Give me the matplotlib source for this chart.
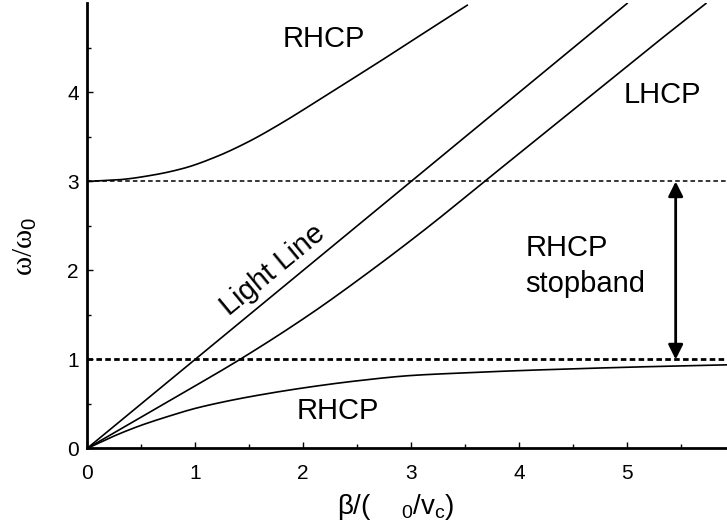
import matplotlib
matplotlib.use("Agg")
import matplotlib.pyplot as plt
import numpy as np

plt.rcParams['font.family'] = ['Liberation Sans', 'DejaVu Sans']
plt.rcParams['mathtext.fontset'] = 'custom'
plt.rcParams['mathtext.rm'] = 'Liberation Sans'
plt.rcParams['mathtext.it'] = 'Liberation Sans'

# Data
light_x = [0.0, 5.0]
light_y = [0.0, 5.0]

lhcp_x = [0.0, 0.71, 1.415, 2.055, 2.63, 3.17, 3.68, 4.19, 4.70, 5.21, 5.73]
lhcp_y = [0.0, 0.5, 1.0, 1.5, 2.0, 2.5, 3.0, 3.5, 4.0, 4.5, 5.0]

rhcp_up_x = [0.0, 0.3, 0.6, 0.9, 1.2, 1.5, 1.8, 2.1, 2.4, 2.7, 3.0, 3.3, 3.52]
rhcp_up_y = [3.0, 3.02, 3.07, 3.15, 3.28, 3.45, 3.655, 3.88, 4.11, 4.34, 4.575, 4.81, 4.98]

rhcp_lo_x = [0.0, 0.25, 0.5, 0.75, 1.0, 1.25, 1.5, 2.0, 2.5, 3.0, 3.5, 4.0, 4.5, 5.0, 5.5, 5.93]
rhcp_lo_y = [0.0, 0.14, 0.26, 0.36, 0.45, 0.52, 0.58, 0.68, 0.76, 0.82, 0.85, 0.875, 0.895, 0.913, 0.928, 0.94]

cutoff_levels = [1.0, 3.0]

xticks = [0, 1, 2, 3, 4, 5]
yticks = [0, 1, 2, 3, 4]


def smooth(xs, ys, n=300):
    # monotone piecewise cubic (Fritsch-Carlson) drawn through the read points
    x = np.asarray(xs, float)
    y = np.asarray(ys, float)
    h = np.diff(x)
    d = np.diff(y) / h
    m = np.zeros_like(x)
    m[0], m[-1] = d[0], d[-1]
    for i in range(1, len(x) - 1):
        if d[i - 1] * d[i] <= 0:
            m[i] = 0
        else:
            w1 = 2 * h[i] + h[i - 1]
            w2 = h[i] + 2 * h[i - 1]
            m[i] = (w1 + w2) / (w1 / d[i - 1] + w2 / d[i])
    xx = np.linspace(x[0], x[-1], n)
    idx = np.clip(np.searchsorted(x, xx) - 1, 0, len(x) - 2)
    t = (xx - x[idx]) / h[idx]
    h00 = 2 * t**3 - 3 * t**2 + 1
    h10 = t**3 - 2 * t**2 + t
    h01 = -2 * t**3 + 3 * t**2
    h11 = t**3 - t**2
    yy = h00 * y[idx] + h10 * h[idx] * m[idx] + h01 * y[idx + 1] + h11 * h[idx] * m[idx + 1]
    return xx, yy


fig = plt.figure(figsize=(7.27, 5.28), dpi=100)
ax = fig.add_axes([0.1197, 0.1506, 0.881, 0.8428])

lw = 1.2
ax.plot(light_x, light_y, color='black', lw=lw)
ax.plot(*smooth(lhcp_x, lhcp_y), color='black', lw=lw)
ax.plot(*smooth(rhcp_up_x, rhcp_up_y), color='black', lw=lw)
ax.plot(*smooth(rhcp_lo_x, rhcp_lo_y), color='black', lw=lw)

ax.axhline(cutoff_levels[1], color='black', lw=1.1, ls=(0, (3, 2)))
ax.axhline(cutoff_levels[0], color='black', lw=2.0, ls=(0, (2, 1.2)))

ax.annotate('', xy=(5.45, cutoff_levels[1]), xytext=(5.45, cutoff_levels[0]),
            arrowprops=dict(arrowstyle='<|-|>', color='black', lw=2.0,
                            mutation_scale=22, shrinkA=0, shrinkB=0))

ax.set_xlim(0, 5.93)
ax.set_ylim(0, 5.0)
ax.spines['top'].set_visible(False)
ax.spines['right'].set_visible(False)
ax.spines['left'].set_linewidth(2.0)
ax.spines['bottom'].set_linewidth(2.0)

ax.set_xticks(xticks)
ax.set_yticks(yticks)
ax.set_xticks(np.arange(0.5, 6, 1.0), minor=True)
ax.set_yticks(np.arange(0.5, 5, 1.0), minor=True)
ax.tick_params(which='major', direction='in', length=4.5, width=1.0, labelsize=15)
ax.tick_params(axis='x', which='major', pad=11)
ax.tick_params(axis='y', which='major', pad=6)
ax.tick_params(which='minor', direction='in', length=3, width=1.0)

ax.set_xlabel('β/(    $_0$/v$_c$)', fontsize=20)
ax.xaxis.set_label_coords(0.4825, -0.132)
ax.xaxis.label.set_va('center')
ax.set_ylabel('ω/ω$_0$', fontsize=21, family=['Liberation Serif', 'DejaVu Serif'])
ax.yaxis.set_label_coords(-0.097, 0.455)
ax.yaxis.label.set_va('center')

fs = 21
ax.text(2.19, 4.6, 'RHCP', fontsize=fs, ha='center', va='center')
ax.text(5.33, 3.97, 'LHCP', fontsize=fs, ha='center', va='center')
ax.text(4.06, 2.05, 'RHCP\nstopband', fontsize=fs, ha='left', va='center', linespacing=1.35)
ax.text(2.32, 0.42, 'RHCP', fontsize=fs, ha='center', va='center')
ax.text(1.72, 2.0, 'Light Line', fontsize=fs, ha='center', va='center', rotation=39.5)

fig.savefig('out.png', dpi=100)
